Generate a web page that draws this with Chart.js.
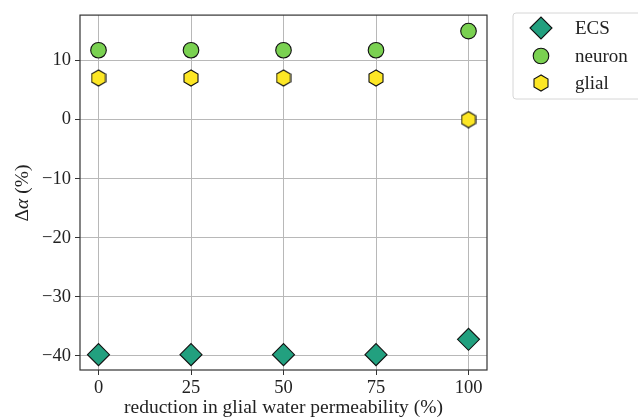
<!DOCTYPE html>
<html>
<head>
<meta charset="utf-8">
<script src="https://cdn.jsdelivr.net/npm/chart.js@4"></script>
<style>
  html, body { margin: 0; padding: 0; background: #fff; }
  #wrap { width: 638px; height: 420px; }
</style>
</head>
<body>
<div id="wrap"><canvas id="chart" width="638" height="420"></canvas></div>
<script>
// values
const reductions = [0, 25, 50, 75, 100];
const ecsValues = [-39.8, -39.8, -39.8, -39.8, -37.2];
const neuronValues = [11.75, 11.75, 11.75, 11.75, 15.0];
const glialValues = [7.05, 7.05, 7.05, 7.05, 0.0];
const xTicks = [0, 25, 50, 75, 100];
const yTicks = [-40, -30, -20, -10, 0, 10];

const FONT = '"Liberation Serif", "DejaVu Serif", serif';

function hexagonStyle(w, h, fill) {
    const c = document.createElement('canvas');
    c.width = w + 2;
    c.height = h + 2;
    const g = c.getContext('2d');
    const cx = c.width / 2, cy = c.height / 2;
    g.beginPath();
    for (let k = 0; k < 6; k++) {
        const a = Math.PI / 2 + k * Math.PI / 3;
        const px = cx + (w / 2) * Math.cos(a) / Math.cos(Math.PI / 6);
        const py = cy - (h / 2) * Math.sin(a);
        if (k === 0) g.moveTo(px, py); else g.lineTo(px, py);
    }
    g.closePath();
    g.fillStyle = fill;
    g.fill();
    g.lineWidth = 1.1;
    g.strokeStyle = '#111';
    g.stroke();
    return c;
}

const glialHex = hexagonStyle(14, 16, '#fde725');

function toPoints(values) {
    return values.map((v, i) => ({ x: reductions[i], y: v }));
}

const frame = {
    id: 'frame',
    afterDraw(chart) {
        const { ctx, chartArea: a } = chart;
        ctx.save();
        ctx.strokeStyle = '#333';
        ctx.lineWidth = 1.2;
        ctx.strokeRect(a.left, a.top, a.right - a.left, a.bottom - a.top);

        // y axis title with italic alpha
        ctx.translate(23, 193);
        ctx.rotate(-Math.PI / 2);
        ctx.fillStyle = '#222';
        ctx.textBaseline = 'middle';
        const parts = [['Δ', '19.5px ' + FONT], ['α', 'italic 19.5px ' + FONT], [' (%)', '19.5px ' + FONT]];
        let total = 0;
        parts.forEach(p => { ctx.font = p[1]; total += ctx.measureText(p[0]).width; });
        let x = -total / 2;
        parts.forEach(p => { ctx.font = p[1]; ctx.fillText(p[0], x, 0); x += ctx.measureText(p[0]).width; });
        ctx.restore();

        // legend
        ctx.save();
        const lx = 513, ly = 13, lw = 140, lh = 86;
        ctx.beginPath();
        ctx.roundRect(lx, ly, lw, lh, 3);
        ctx.fillStyle = 'rgba(255,255,255,0.8)';
        ctx.fill();
        ctx.strokeStyle = '#d6d6d6';
        ctx.lineWidth = 1;
        ctx.stroke();
        ctx.font = '19px ' + FONT;
        ctx.fillStyle = '#222';
        ctx.textBaseline = 'middle';
        const rows = [28, 56, 83];
        chart.data.datasets.forEach((ds, i) => {
            ctx.fillStyle = ds.backgroundColor;
            ctx.strokeStyle = ds.borderColor;
            ctx.lineWidth = ds.borderWidth;
            Chart.helpers.drawPoint(ctx, {
                pointStyle: ds.pointStyle,
                radius: ds.pointRadius,
                rotation: 0,
                borderWidth: ds.borderWidth
            }, 541, rows[i]);
            ctx.fillStyle = '#222';
            ctx.fillText(ds.label, 575, rows[i] + 1);
        });
        ctx.restore();
    }
};

new Chart(document.getElementById('chart'), {
    type: 'scatter',
    data: {
        datasets: [
            {
                label: 'ECS',
                data: toPoints(ecsValues),
                pointStyle: 'rectRot',
                pointRadius: 11,
                backgroundColor: '#22a07f',
                borderColor: '#111',
                borderWidth: 1.1
            },
            {
                label: 'neuron',
                data: toPoints(neuronValues),
                pointStyle: 'circle',
                pointRadius: 7.8,
                backgroundColor: '#7ad151',
                borderColor: '#111',
                borderWidth: 1.1
            },
            {
                label: 'glial',
                data: toPoints(glialValues),
                pointStyle: glialHex,
                pointRadius: 8,
                backgroundColor: '#fde725',
                borderColor: '#111',
                borderWidth: 1.1
            }
        ]
    },
    options: {
        responsive: false,
        animation: false,
        layout: { padding: { left: 0, top: 13, right: 151, bottom: 0 } },
        plugins: {
            legend: { display: false },
            tooltip: { enabled: false }
        },
        scales: {
            x: {
                type: 'linear',
                min: -5,
                max: 105,
                afterBuildTicks: s => { s.ticks = xTicks.map(v => ({ value: v })); },
                afterFit: s => { s.height = 50; },
                grid: { color: '#b8b8b8', lineWidth: 1, tickLength: 5, tickColor: '#333' },
                border: { display: false },
                ticks: { color: '#222', font: { family: FONT, size: 18.5 }, padding: 2, maxRotation: 0 },
                title: {
                    display: true,
                    text: 'reduction in glial water permeability (%)',
                    color: '#222',
                    font: { family: FONT, size: 19.5 },
                    padding: { top: 0, bottom: 0 }
                }
            },
            y: {
                type: 'linear',
                min: -42.4,
                max: 17.7,
                afterBuildTicks: s => { s.ticks = yTicks.map(v => ({ value: v })); },
                afterFit: s => { s.width = 80; },
                grid: { color: '#b8b8b8', lineWidth: 1, tickLength: 5, tickColor: '#333' },
                border: { display: false },
                ticks: {
                    color: '#222',
                    font: { family: FONT, size: 18.5 },
                    padding: 4,
                    callback: v => String(v).replace('-', '\u2212')
                }
            }
        }
    },
    plugins: [frame]
});
</script>
</body>
</html>
